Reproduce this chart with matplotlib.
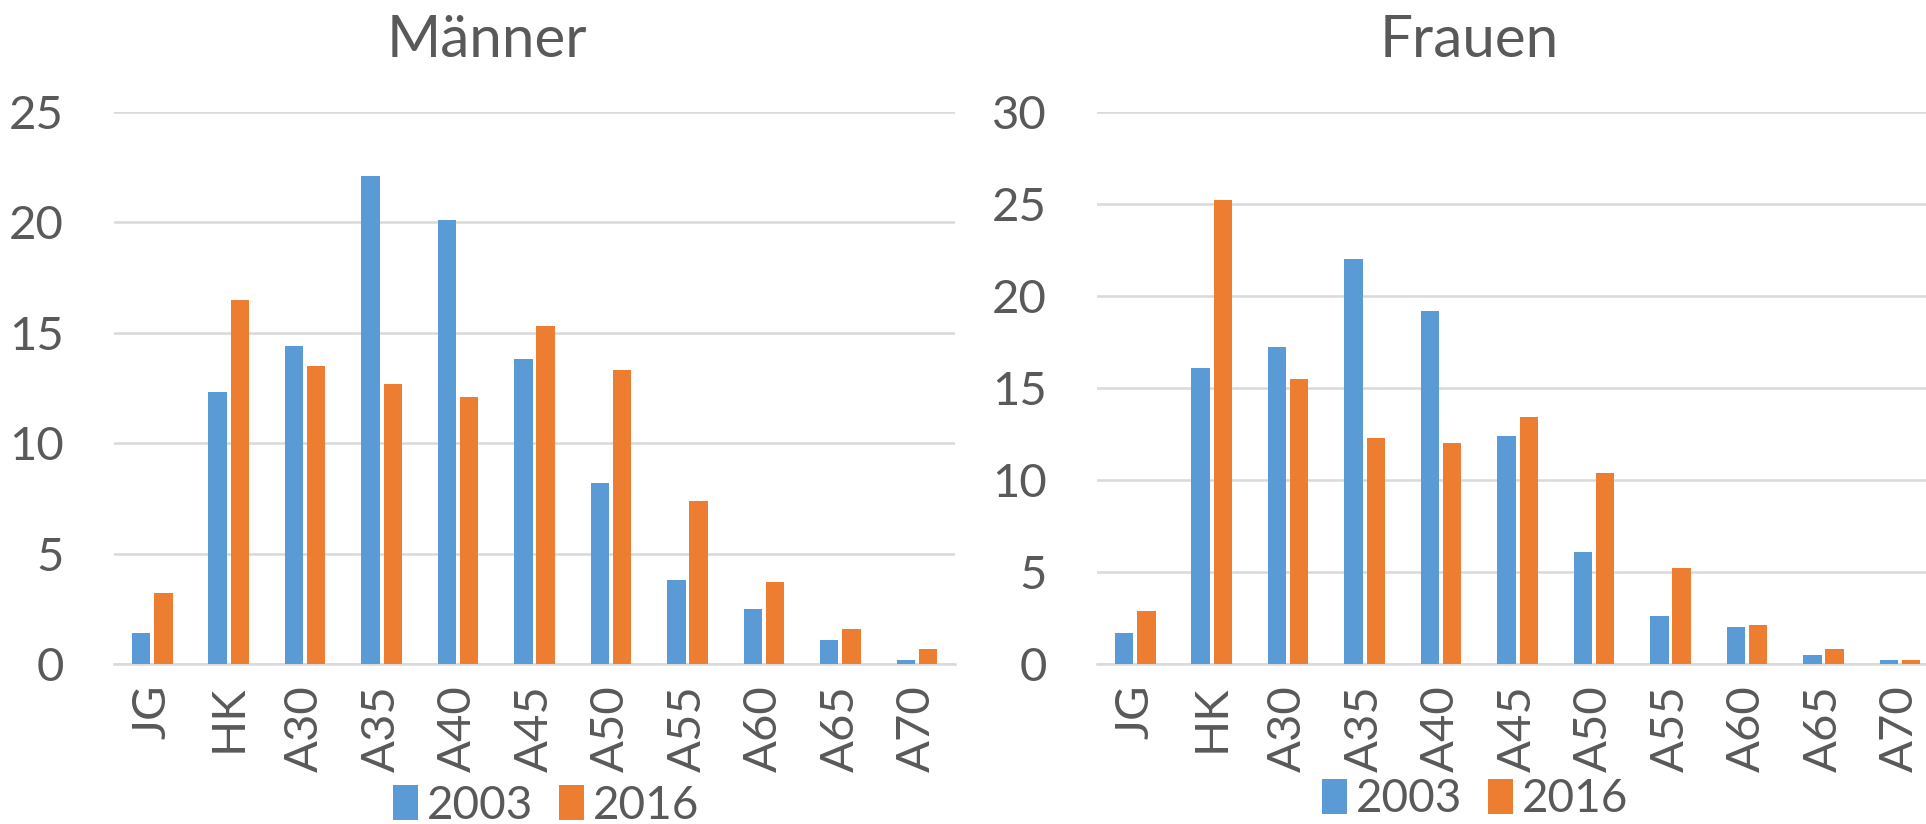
import matplotlib
matplotlib.use("Agg")
import matplotlib.pyplot as plt
import numpy as np

plt.rcParams['font.family'] = ['Lato', 'DejaVu Sans']

categories = ["JG", "HK", "A30", "A35", "A40", "A45", "A50", "A55", "A60", "A65", "A70"]
years = ["2003", "2016"]

maenner_2003 = [1.4, 12.3, 14.4, 22.1, 20.1, 13.8, 8.2, 3.8, 2.5, 1.1, 0.2]
maenner_2016 = [3.2, 16.5, 13.5, 12.7, 12.1, 15.3, 13.3, 7.4, 3.7, 1.6, 0.7]

frauen_2003 = [1.7, 16.1, 17.2, 22.0, 19.2, 12.4, 6.1, 2.6, 2.0, 0.5, 0.2]
frauen_2016 = [2.9, 25.2, 15.5, 12.3, 12.0, 13.4, 10.4, 5.2, 2.1, 0.8, 0.2]

BLUE = "#5B9BD5"
ORANGE = "#ED7D31"
TEXT = "#595959"
GRID = "#D9D9D9"

fig = plt.figure(figsize=(19.26, 8.24), dpi=100)
fig.patch.set_facecolor("white")

panels = [
    dict(title="Männer", a=maenner_2003, b=maenner_2016, ymax=25,
         rect=[0.0592, 0.1942, 0.4367, 0.670], tx=0.253, lx=0.2835, ly=0.022),
    dict(title="Frauen", a=frauen_2003, b=frauen_2016, ymax=30,
         rect=[0.5696, 0.1942, 0.4367, 0.670], tx=0.763, lx=0.766, ly=0.030),
]

x = np.arange(len(categories))
w = 0.24
off = 0.145

for p in panels:
    ax = fig.add_axes(p["rect"])
    b1 = ax.bar(x - off, p["a"], width=w, color=BLUE, label=years[0], zorder=3)
    b2 = ax.bar(x + off, p["b"], width=w, color=ORANGE, label=years[1], zorder=3)
    ax.set_xlim(-0.5, len(categories) - 0.5)
    ax.set_ylim(0, p["ymax"])
    ax.set_yticks(np.arange(0, p["ymax"] + 1, 5))
    ax.yaxis.grid(True, color=GRID, linewidth=1.8, zorder=0)
    ax.set_axisbelow(True)
    for s in ["top", "right", "left"]:
        ax.spines[s].set_visible(False)
    ax.spines["bottom"].set_color(GRID)
    ax.spines["bottom"].set_linewidth(1.8)
    ax.set_xticks(x)
    ax.set_xticklabels(categories, rotation=90, va="top", ha="center")
    ax.tick_params(axis="x", length=0, pad=15, labelsize=34, labelcolor=TEXT)
    ax.tick_params(axis="y", length=0, pad=36, labelsize=34, labelcolor=TEXT)
    fig.text(p["tx"], 0.951, p["title"], ha="center", va="center",
             fontsize=42, color=TEXT)
    fig.legend(handles=[b1, b2], labels=years, loc="center",
               bbox_to_anchor=(p["lx"], p["ly"]), ncol=2, frameon=False,
               fontsize=33, labelcolor=TEXT, handlelength=0.55, handleheight=0.8,
               handletextpad=0.2, columnspacing=0.55, borderpad=0)

fig.savefig("out.png", dpi=100, facecolor="white")
